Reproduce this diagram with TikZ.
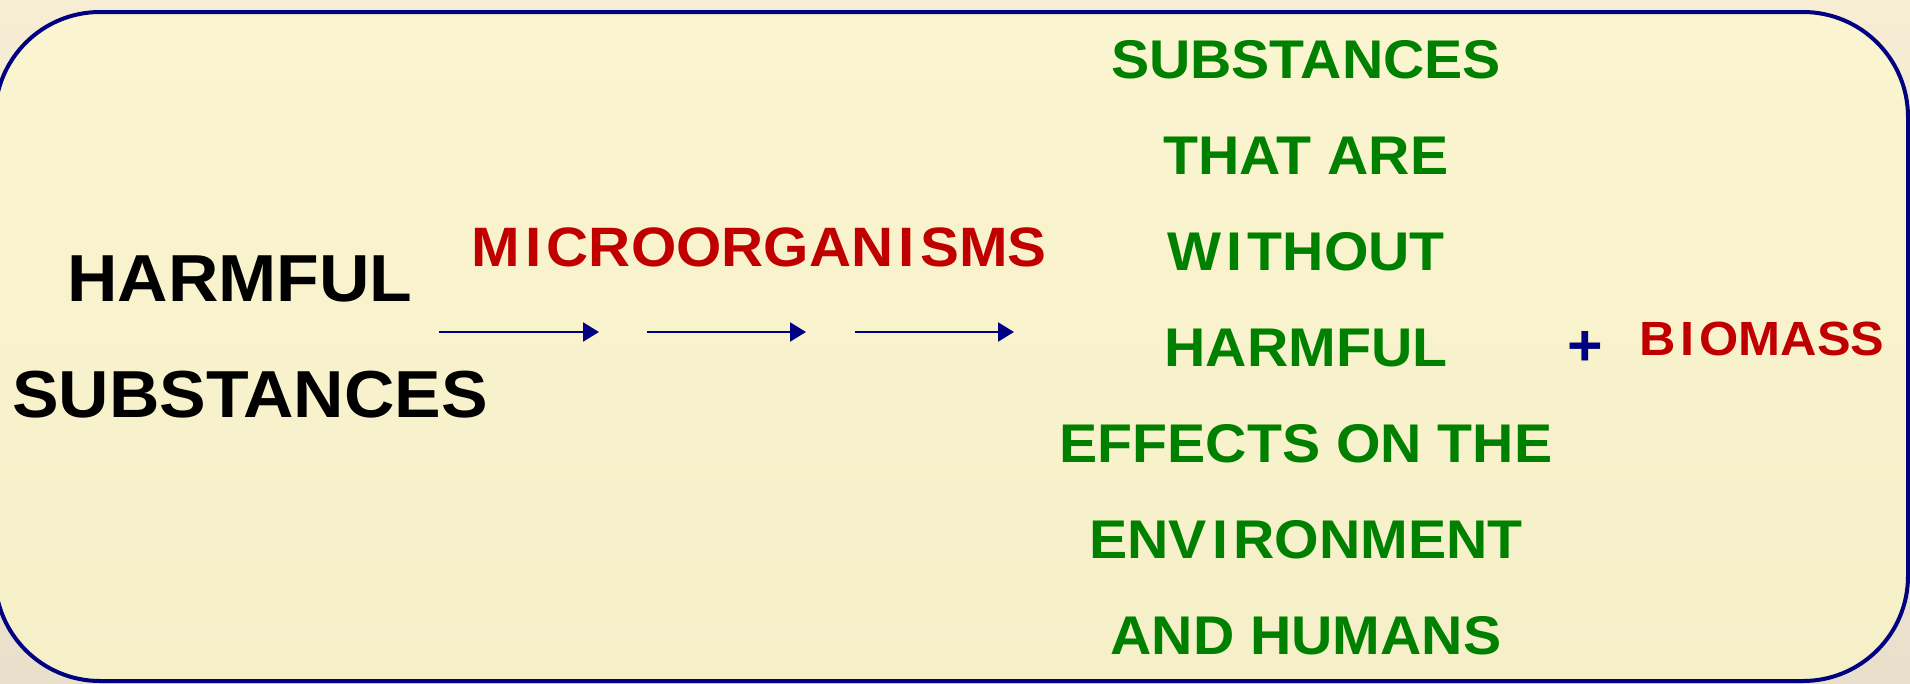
\documentclass[tikz,border=0pt]{standalone}
\usepackage{fontspec}
\setmainfont{Liberation Sans}[FakeStretch=1.05]
\usetikzlibrary{arrows.meta}
\definecolor{navy}{RGB}{0,0,128}
\definecolor{slidered}{RGB}{192,0,0}
\definecolor{slidegreen}{RGB}{0,128,0}
\definecolor{boxtop}{RGB}{250,245,208}
\definecolor{boxbot}{RGB}{245,240,200}
\definecolor{pagetop}{RGB}{247,236,212}
\definecolor{pagebot}{RGB}{232,224,203}
% the I is set a little apart, as on the slide
\newcommand\wideI{\kern0.1em I\kern0.1em}
\tikzset{
 harmful/.style={inner sep=0pt,anchor=base,font=\bfseries\fontsize{66.5}{80}\selectfont},
 agent/.style={inner sep=0pt,anchor=base,text=slidered,font=\bfseries\fontsize{55.5}{66}\selectfont},
 product/.style={inner sep=0pt,anchor=base,text=slidegreen,font=\bfseries\fontsize{54.5}{65}\selectfont},
 extra/.style={inner sep=0pt,anchor=base,text=slidered,font=\bfseries\fontsize{48}{58}\selectfont},
 flow/.style={navy,line width=2.2pt,-{Triangle[length=16pt,width=19pt]}}
}
\begin{document}
\begin{tikzpicture}[x=1pt,y=-1pt]
 \useasboundingbox (0,0) rectangle (1910,683);
 \fill[top color=pagetop,bottom color=pagebot] (0,0) rectangle (1910,683);
 \draw[navy,line width=4pt,rounded corners=105pt,top color=boxtop,bottom color=boxbot]
  (-5,12) rectangle (1908,681);
 % left side
 \node[harmful] (harm) at (240,301) {HARMFUL};
 \node[harmful] (subs) at (250,417) {SUBSTANCES};
 \node[agent] (micro) at (759,266) {M\wideI CROORGAN\wideI SMS};
 % three arrows
 \foreach \i/\xa/\xb in {1/439/599,2/647/806,3/855/1014}{
  \coordinate (s\i) at (\xa,332);
  \coordinate (e\i) at (\xb,332);
  \draw[flow] (s\i) -- (e\i);
 }
 % right side
 \node[product] (g1) at (1306,78) {SUBSTANCES};
 \node[product] (g2) at (1306,174) {THAT ARE};
 \node[product] (g3) at (1306,270) {W\wideI THOUT};
 \node[product] (g4) at (1306,366) {HARMFUL};
 \node[product] (g5) at (1306,462) {EFFECTS ON THE};
 \node[product] (g6) at (1306,558) {ENV\wideI RONMENT};
 \node[product] (g7) at (1306,654) {AND HUMANS};
 \node[inner sep=0pt,text=navy,font=\bfseries\fontsize{58}{70}\selectfont] (plus) at (1585,348) {+};
 \node[extra] (bio) at (1762,355) {B\wideI OMASS};
\end{tikzpicture}
\end{document}
